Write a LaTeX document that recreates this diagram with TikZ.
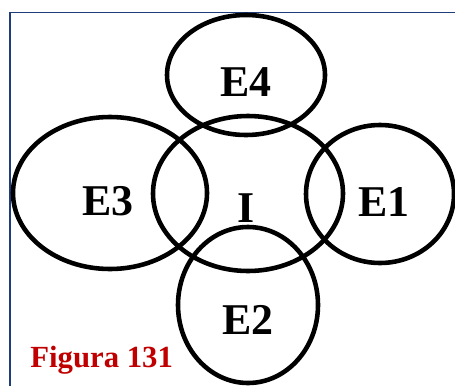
\documentclass[tikz,border=0pt]{standalone}
\usepackage{fontspec}
\setmainfont{Liberation Serif}
\definecolor{frameblue}{RGB}{31,61,122}
\definecolor{figred}{RGB}{192,0,0}
\tikzset{
    setline/.style={line width=2.6pt},
    setlabel/.style={font=\fontsize{25}{25}\selectfont\bfseries},
}
\begin{document}
\begin{tikzpicture}[x=0.02cm, y=-0.02cm]
        \useasboundingbox (0, 0) rectangle (455, 385);
        % Frame of the figure
        \draw[frameblue, line width=0.9pt] (10, 395) -- (10, 12.5) -- (465, 12.5);

        % Sets
        \draw[setline] (246, 75) ellipse (79 and 60);
        \draw[setline] (248, 193.5) ellipse (95 and 77.5);
        \draw[setline] (110, 193) ellipse (97 and 76);
        \draw[setline] (380, 194) ellipse (74 and 69);
        \draw[setline] (248, 305) ellipse (70 and 78);

        % Labels of the sets
        \node[setlabel] (e4) at (246, 82) {E4};
        \node[setlabel] (i) at (246, 208) {I};
        \node[setlabel] (e3) at (108, 201) {E3};
        \node[setlabel] (e1) at (384, 202) {E1};
        \node[setlabel] (e2) at (248, 320) {E2};

        % Caption
        \node[figred, anchor=base west, inner sep=0pt, font=\fontsize{17.5}{17.5}\selectfont\bfseries] (fig) at (30, 367) {Figura 131};
    \end{tikzpicture}
\end{document}
